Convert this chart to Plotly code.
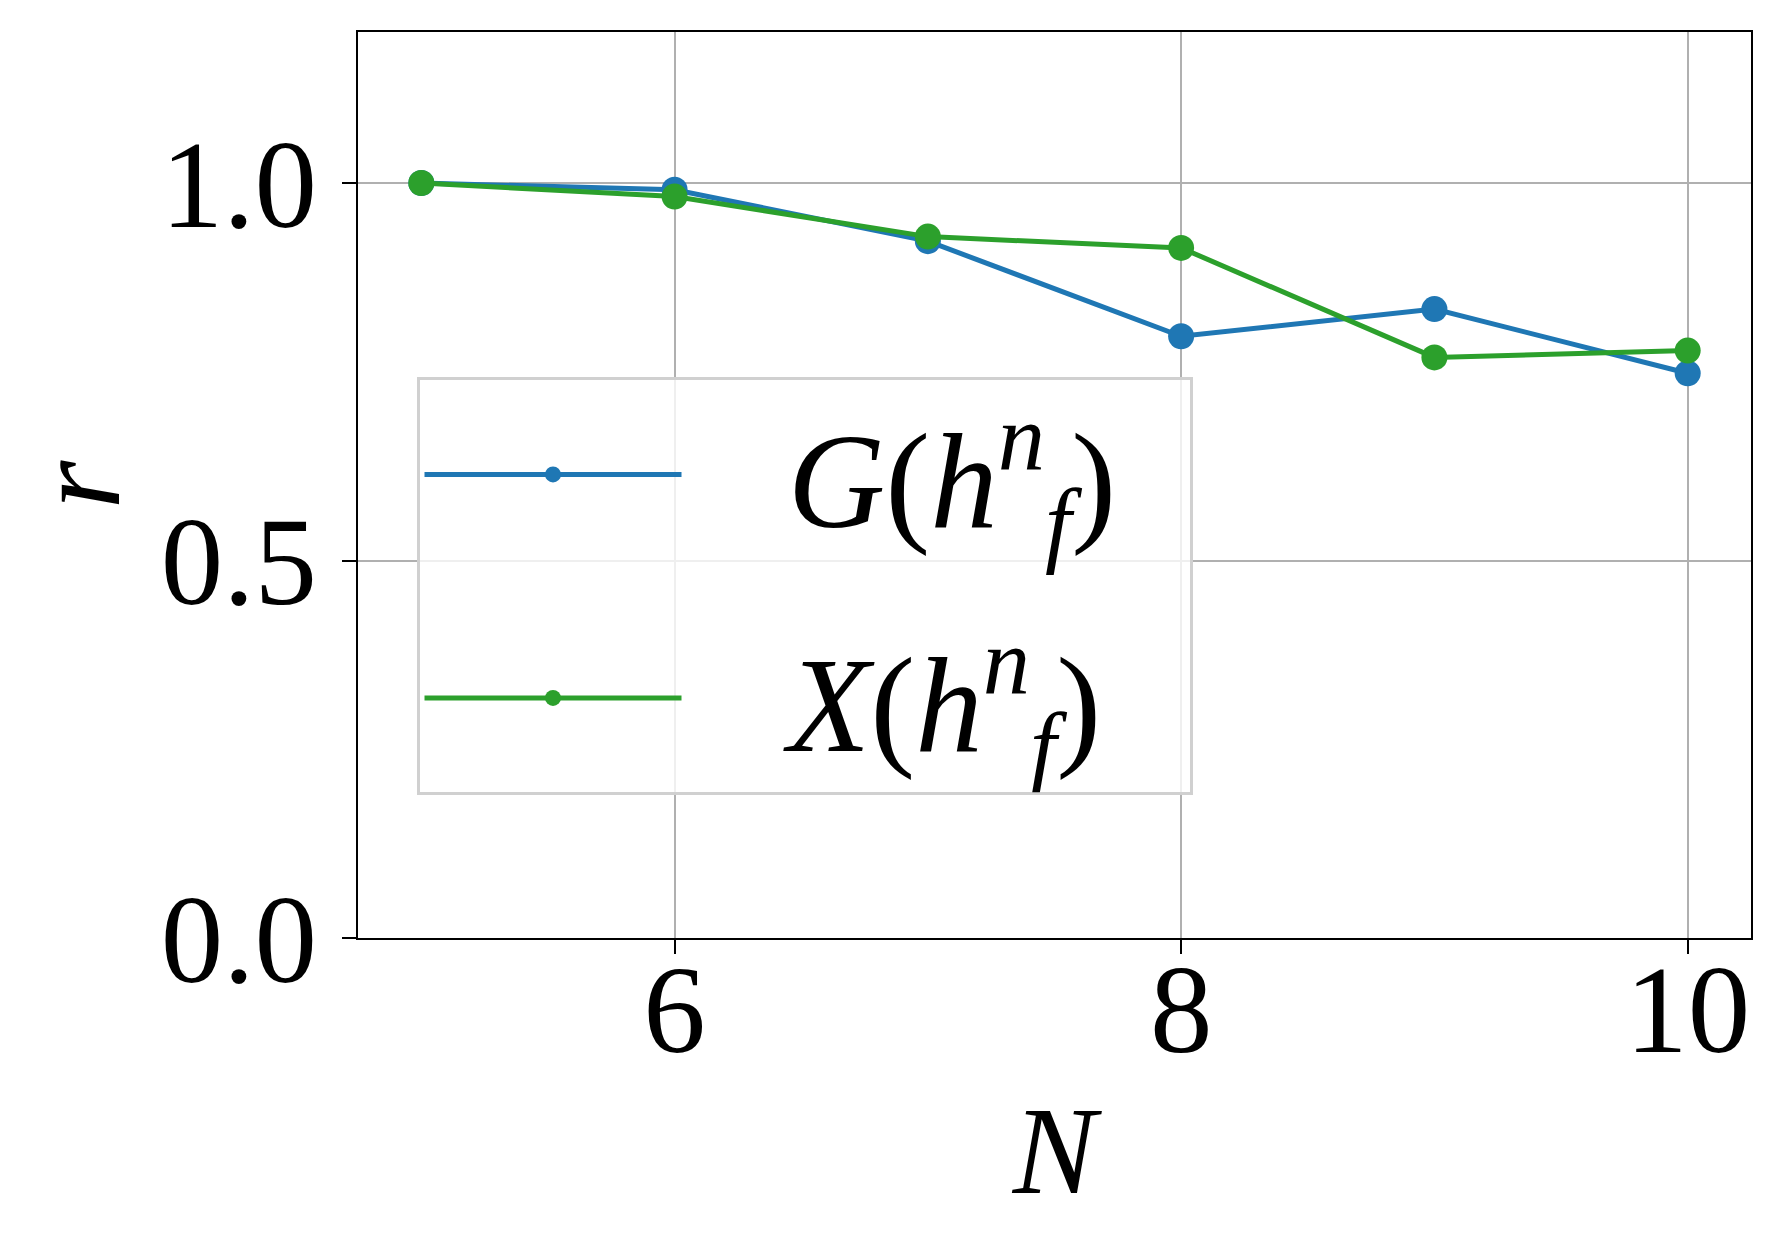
import plotly.graph_objects as go

# chart values
n_values = [5, 6, 7, 8, 9, 10]
r_G = [1.0, 0.991, 0.923, 0.797, 0.833, 0.748]
r_X = [1.0, 0.982, 0.929, 0.914, 0.769, 0.778]
x_ticks = [6, 8, 10]
y_ticks = [0.0, 0.5, 1.0]

pad = "&nbsp;&nbsp;&nbsp;"
tail = "&nbsp;&nbsp;"
name_G = pad + "<i>G</i>(<i>h</i><sup><i>n</i></sup><sub><i>f</i></sub>)" + tail
name_X = pad + "<i>X</i>(<i>h</i><sup><i>n</i></sup><sub><i>f</i></sub>)" + tail

serif = "Liberation Serif"

fig = go.Figure()
fig.add_trace(go.Scatter(x=n_values, y=r_G, mode="lines+markers", name=name_G,
                         legendgroup="g", line=dict(color="#1f77b4", width=5),
                         marker=dict(size=26, color="#1f77b4")))
fig.add_trace(go.Scatter(x=n_values, y=r_X, mode="lines+markers", name=name_X,
                         legendgroup="x", line=dict(color="#2ca02c", width=5),
                         marker=dict(size=26, color="#2ca02c")))

axis_common = dict(showline=True, linecolor="black", linewidth=2, mirror=True,
                   ticks="outside", ticklen=14, tickwidth=2, tickcolor="black",
                   showgrid=True, gridcolor="#b0b0b0", gridwidth=2, zeroline=False,
                   tickfont=dict(family=serif, size=125, color="black"))

fig.update_xaxes(range=[4.75, 10.25], tickvals=x_ticks, ticklabelstandoff=-52,
                 title=dict(text="<i>N</i>", font=dict(family=serif, size=125, color="black"), standoff=27),
                 **axis_common)
fig.update_yaxes(range=[0, 1.2], tickvals=y_ticks, tickformat=".1f",
                 title=dict(text="<i>r</i>", font=dict(family=serif, size=125, color="black"), standoff=30),
                 **axis_common)

fig.update_layout(
    width=1780, height=1260,
    margin=dict(l=350, r=37, t=24, b=330),
    plot_bgcolor="white", paper_bgcolor="white",
    showlegend=True,
    legend=dict(x=0.042, y=0.619, xanchor="left", yanchor="top",
                bgcolor="rgba(255,255,255,0.8)", bordercolor="#d0d0d0", borderwidth=3,
                font=dict(family=serif, size=135, color="black"),
                traceorder="grouped", tracegroupgap=45, itemwidth=257),
)

fig.write_html("out.html")
